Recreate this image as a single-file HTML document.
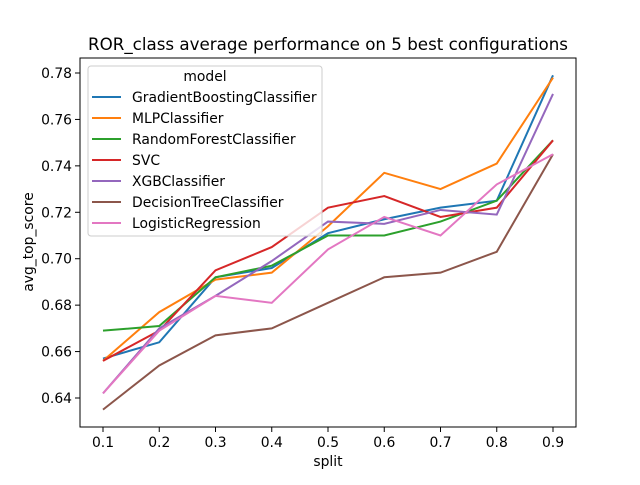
<!DOCTYPE html>
<html><head><meta charset="utf-8"><style>
body{margin:0;background:#fff;}
svg text{font-family:"DejaVu Sans","Liberation Sans",sans-serif;fill:#000;}
</style></head><body>
<svg id="chart" width="640" height="480" xmlns="http://www.w3.org/2000/svg">
<text x="328" y="50" font-size="16.7" text-anchor="middle">ROR_class average performance on 5 best configurations</text>
<g id="marks"></g>
<rect x="80" y="58" width="496" height="369" fill="none" stroke="#000" stroke-width="1"/>
<g id="xt"></g><g id="yt"></g>
<text x="328" y="466" font-size="13.9" text-anchor="middle">split</text>
<text x="0" y="0" font-size="13.9" text-anchor="middle" transform="translate(33,242) rotate(-90)">avg_top_score</text>
<g id="legend">
<rect x="88" y="66" width="234" height="170" rx="3" fill="#fff" fill-opacity="0.8" stroke="#ccc"/>
<text x="205" y="81" font-size="13.9" text-anchor="middle">model</text>
</g>
</svg>
<script>
const splits=[0.1,0.2,0.3,0.4,0.5,0.6,0.7,0.8,0.9];
const models=["GradientBoostingClassifier","MLPClassifier","RandomForestClassifier","SVC","XGBClassifier","DecisionTreeClassifier","LogisticRegression"];
const colors=["#1f77b4","#ff7f0e","#2ca02c","#d62728","#9467bd","#8c564b","#e377c2"];
const gb=[0.657,0.664,0.692,0.696,0.711,0.717,0.722,0.725,0.779];
const mlp=[0.656,0.677,0.691,0.694,0.714,0.737,0.730,0.741,0.778];
const rf=[0.669,0.671,0.692,0.697,0.710,0.710,0.716,0.725,0.751];
const svc=[0.656,0.669,0.695,0.705,0.722,0.727,0.718,0.722,0.751];
const xgb=[0.642,0.670,0.684,0.699,0.716,0.715,0.721,0.719,0.771];
const dt=[0.635,0.654,0.667,0.670,0.681,0.692,0.694,0.703,0.745];
const lr=[0.642,0.669,0.684,0.681,0.704,0.718,0.710,0.732,0.745];
const xTicks=[0.1,0.2,0.3,0.4,0.5,0.6,0.7,0.8,0.9];
const yTicks=[0.64,0.66,0.68,0.70,0.72,0.74,0.76,0.78];
const series=[gb,mlp,rf,svc,xgb,dt,lr];
const NS="http://www.w3.org/2000/svg";
function X(v){return 103+(v-0.1)*562.5;}
function Y(v){return 398-(v-0.64)*2321.4;}
function mk(t,a,p){const e=document.createElementNS(NS,t);for(const k in a)e.setAttribute(k,a[k]);p.appendChild(e);return e;}
const marks=document.getElementById('marks'),xt=document.getElementById('xt'),yt=document.getElementById('yt'),lg=document.getElementById('legend');
xTicks.forEach(v=>{
 const l=mk('line',{x1:X(v),x2:X(v),y1:427,y2:432,stroke:'#000'},xt);
 
 
 const t=mk('text',{x:X(v),y:447,'font-size':13.9,'text-anchor':'middle'},xt);t.textContent=v.toFixed(1);
 
 
});
yTicks.forEach(v=>{
 const l=mk('line',{x1:75,x2:80,y1:Y(v),y2:Y(v),stroke:'#000'},yt);
 
 
 const t=mk('text',{x:72,y:Y(v)+5,'font-size':13.9,'text-anchor':'end'},yt);t.textContent=v.toFixed(2);
 
 
});
series.forEach((s,i)=>{
 const p=mk('polyline',{points:s.map((v,j)=>X(splits[j])+','+Y(v)).join(' '),fill:'none',stroke:colors[i],'stroke-width':2},marks);
 
 
 const y=97+i*21;
 const l=mk('line',{x1:92,x2:121,y1:y,y2:y,stroke:colors[i],'stroke-width':2},lg);
 
 
 const t=mk('text',{x:132,y:y+5,'font-size':13.9},lg);t.textContent=models[i];
 
 
});
</script>
</body></html>
